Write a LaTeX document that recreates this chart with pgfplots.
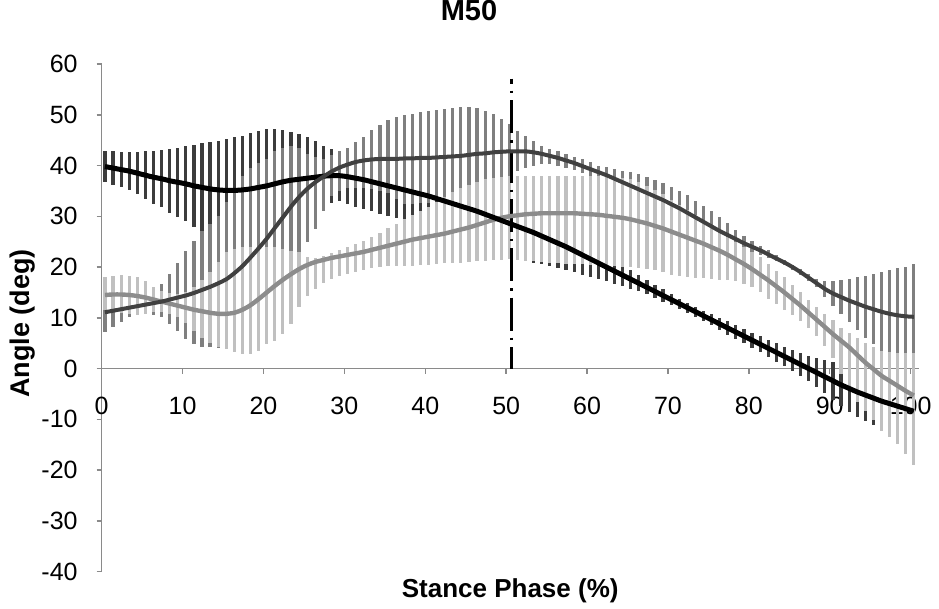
\documentclass[border=0pt]{standalone}
\usepackage{pgfplots}
\pgfplotsset{compat=1.18}
\usepackage{pgfplotstable}
\usepackage{fontspec}
\setmainfont{Liberation Sans}
\definecolor{barB}{HTML}{3C3C3C}
\definecolor{barM}{HTML}{7F7F7F}
\definecolor{barL}{HTML}{C0C0C0}
\definecolor{lineM}{HTML}{404040}
\definecolor{lineL}{HTML}{8C8C8C}
\definecolor{axisgray}{HTML}{8A8A8A}
\pgfplotstableread{
x bm bs mm mh ml lm lh ll
0 39.8 3.1 11.1 14.0 7.2 14.5 18.0 11.5
1 39.5 3.4 11.4 14.2 8.1 14.6 18.3 11.3
2 39.2 3.4 11.7 14.4 9.1 14.6 18.4 11.0
3 38.9 3.7 12.0 14.6 10.2 14.5 18.3 10.8
4 38.5 4.1 12.3 14.8 10.6 14.3 18.0 10.6
5 38.1 4.7 12.6 15.2 10.8 14.0 17.2 10.8
6 37.7 5.2 12.9 15.6 10.5 13.6 16.0 11.2
7 37.4 5.6 13.2 16.7 10.1 13.2 15.2 11.2
8 37.0 6.3 13.6 18.6 8.8 12.8 14.8 10.8
9 36.7 6.8 14.0 20.9 7.5 12.4 14.6 10.2
10 36.4 7.4 14.4 23.2 5.8 12.0 15.0 9.0
11 36.0 8.1 14.9 25.2 4.9 11.6 16.0 7.5
12 35.7 8.7 15.5 27.2 4.2 11.3 17.5 6.0
13 35.4 9.3 16.1 28.5 4.2 11.0 19.0 5.0
14 35.2 9.7 16.8 30.0 4.1 10.8 21.0 4.3
15 35.1 10.1 17.6 32.8 3.8 10.8 22.9 3.9
16 35.1 10.5 18.8 35.4 3.8 11.0 23.6 3.2
17 35.2 10.7 20.2 38.0 4.0 11.6 23.9 2.9
18 35.4 11.0 21.9 39.5 5.0 12.5 23.9 2.9
19 35.7 11.2 23.7 40.5 7.0 13.7 23.9 3.5
20 36.0 11.1 25.6 41.3 10.0 15.0 23.9 4.9
21 36.4 10.7 27.7 42.8 13.0 16.3 23.9 5.5
22 36.8 10.2 29.8 43.5 16.0 17.5 23.6 6.8
23 37.1 9.6 31.9 43.9 20.0 18.6 23.2 8.8
24 37.3 8.9 33.8 43.5 23.0 19.6 22.9 12.1
25 37.5 8.2 35.4 42.3 25.0 20.4 21.9 14.4
26 37.7 7.2 36.7 41.6 27.5 21.0 21.8 15.6
27 37.9 6.0 37.8 41.3 31.0 21.4 22.2 16.8
28 38.0 5.3 38.8 42.0 34.0 21.8 22.8 17.6
29 38.0 4.9 39.6 42.9 35.0 22.1 23.4 18.2
30 37.8 5.3 40.2 43.5 35.5 22.4 23.9 18.6
31 37.5 5.6 40.7 44.6 35.5 22.7 24.5 19.0
32 37.2 5.7 41.0 45.7 35.5 23.0 25.2 19.4
33 36.8 5.8 41.2 47.0 35.3 23.4 26.0 19.8
34 36.4 5.9 41.3 48.0 35.0 23.8 26.8 20.0
35 36.0 6.0 41.3 48.9 34.5 24.2 27.6 20.2
36 35.6 6.0 41.3 49.5 33.5 24.6 28.4 20.3
37 35.2 6.0 41.4 50.0 32.4 25.0 29.5 20.3
38 34.8 6.0 41.4 50.2 32.5 25.4 30.2 20.3
39 34.4 6.0 41.5 50.5 32.6 25.7 31.0 20.4
40 34.0 6.1 41.5 50.8 32.6 26.0 31.8 20.5
41 33.5 6.2 41.6 51.0 33.0 26.3 32.8 20.6
42 33.0 6.3 41.7 51.1 33.5 26.6 33.8 20.8
43 32.5 6.4 41.8 51.3 34.0 27.0 34.7 20.8
44 32.0 6.5 41.9 51.5 34.5 27.4 35.5 20.9
45 31.5 6.6 42.1 51.5 35.0 27.8 36.2 21.0
46 31.0 6.7 42.3 51.3 35.5 28.3 36.8 21.1
47 30.4 6.8 42.4 50.8 36.0 28.8 37.3 21.2
48 29.8 6.8 42.6 50.2 36.5 29.3 37.6 21.3
49 29.2 6.8 42.7 49.2 37.0 29.7 37.8 21.4
50 28.6 6.7 42.8 48.2 37.4 30.0 38.0 21.5
51 28.0 6.5 42.8 46.9 39.0 30.2 38.0 21.3
52 27.4 6.2 42.8 45.9 39.5 30.4 38.0 21.2
53 26.8 5.9 42.6 44.9 40.0 30.5 38.0 21.1
54 26.1 5.5 42.3 43.9 40.3 30.6 38.0 21.0
55 25.4 5.1 41.9 43.3 40.3 30.6 38.0 20.9
56 24.7 4.8 41.5 42.9 40.0 30.6 38.0 20.8
57 24.0 4.5 41.0 42.3 39.6 30.6 38.0 20.7
58 23.2 4.2 40.5 41.7 39.2 30.6 38.0 20.6
59 22.4 3.9 39.9 41.2 38.6 30.5 38.0 20.6
60 21.6 3.5 39.3 40.6 38.0 30.4 38.0 20.5
61 20.8 3.1 38.7 40.0 37.4 30.3 38.0 20.4
62 20.0 2.8 38.1 39.7 36.5 30.1 37.9 20.3
63 19.2 2.5 37.4 39.3 35.5 29.9 37.8 20.3
64 18.4 2.2 36.7 39.0 34.4 29.7 37.6 20.1
65 17.6 1.9 36.0 38.7 33.3 29.4 37.3 20.0
66 16.8 1.6 35.3 38.3 32.3 29.0 36.7 19.8
67 16.0 1.4 34.6 37.7 31.5 28.6 36.0 19.6
68 15.2 1.3 33.9 37.2 30.6 28.1 35.2 19.4
69 14.4 1.2 33.2 36.5 29.9 27.6 34.3 19.1
70 13.6 1.1 32.4 35.7 29.1 27.0 33.3 18.5
71 12.8 1.0 31.6 35.0 28.2 26.4 32.3 18.3
72 12.0 1.0 30.7 34.1 27.3 25.8 31.3 18.1
73 11.2 1.0 29.8 33.1 26.5 25.2 30.2 17.9
74 10.4 1.0 28.9 32.1 25.7 24.6 29.1 17.8
75 9.6 1.1 28.0 31.1 24.9 23.9 28.0 17.6
76 8.8 1.2 27.1 29.9 24.3 23.2 27.0 17.5
77 8.0 1.3 26.3 28.6 24.0 22.4 26.0 17.4
78 7.2 1.3 25.5 27.3 23.7 21.5 24.9 17.3
79 6.4 1.4 24.7 26.2 23.2 20.6 23.9 16.7
80 5.6 1.5 24.0 25.2 22.8 19.6 22.9 16.0
81 4.8 1.6 23.3 24.2 22.4 18.5 21.9 15.0
82 4.0 1.7 22.5 23.3 21.7 17.4 20.6 13.7
83 3.2 1.8 21.7 22.3 21.1 16.2 19.3 12.7
84 2.4 1.9 20.9 21.4 20.4 15.0 18.0 11.6
85 1.6 2.0 20.0 20.5 19.5 13.7 16.5 10.5
86 0.8 2.2 19.0 19.6 18.4 12.4 15.0 9.3
87 0.0 2.5 17.9 18.6 17.2 11.0 13.6 8.0
88 -0.8 2.8 16.8 17.6 16.0 9.6 12.2 6.5
89 -1.6 3.2 15.7 17.3 14.1 8.2 10.8 4.5
90 -2.4 3.7 14.8 17.3 12.3 6.8 9.5 2.0
91 -3.2 4.2 14.1 17.4 10.8 5.5 8.0 -1.0
92 -3.9 4.7 13.4 17.7 9.1 4.2 7.0 -4.0
93 -4.6 5.0 12.8 18.0 7.6 2.7 6.0 -6.5
94 -5.2 5.2 12.2 18.3 6.1 1.2 5.0 -8.3
95 -5.8 5.4 11.7 18.6 4.8 -0.1 4.2 -10.2
96 -6.4 5.6 11.2 19.0 3.4 -1.4 3.5 -12.2
97 -6.9 5.8 10.8 19.4 2.2 -2.4 3.2 -13.5
98 -7.4 6.0 10.5 19.8 1.2 -3.4 3.0 -14.8
99 -7.9 6.2 10.3 20.1 0.5 -4.4 3.0 -16.8
100 -8.4 6.4 10.2 20.6 -0.2 -5.3 3.0 -19.0
}\data
\begin{document}
\begin{tikzpicture}
\useasboundingbox (-50.85pt,-18.65pt) rectangle (418.65pt,285.85pt);
\begin{axis}[
  at={(0pt,0pt)}, anchor=south west,
  scale only axis, width=408.5pt, height=253.85pt,
  xmin=0, xmax=101, ymin=-40, ymax=60,
  axis x line=middle, axis y line=left,
  axis line style={draw=axisgray, line width=0.75pt, -},
  xtick={0,10,...,100}, ytick={-40,-30,...,60},
  tick align=outside, major tick length=2.5pt,
  tick style={draw=axisgray, line width=0.75pt},
  hide obscured x ticks=false, hide obscured y ticks=false,
  /pgf/number format/assume math mode=true,
  ticklabel style={font=\fontsize{12.5}{14}\selectfont},
  xticklabel style={anchor=north, yshift=-8pt},
  yticklabel style={anchor=east, xshift=-6pt},
  title={M50},
  title style={at={(axis description cs:0.4496,1.0817)}, anchor=center, font=\bfseries\fontsize{14.5}{16}\selectfont},
  xlabel={Stance Phase (\%)},
  xlabel style={at={(axis description cs:0.5,-0.038)}, anchor=center, font=\bfseries\fontsize{13}{15}\selectfont},
  ylabel={Angle (deg)},
  ylabel style={at={(axis description cs:-0.0963,0.489)}, anchor=center, font=\bfseries\fontsize{13.5}{15}\selectfont},
]
\addplot[draw=none, mark=none, error bars/.cd, y dir=both, y explicit, error mark=none,
  error bar style={line width=1.6pt, draw=barB, solid}]
  table[x expr=\thisrow{x}+0.4, y=bm, y error=bs]{\data};
\addplot[draw=none, mark=none, error bars/.cd, y dir=both, y explicit, error mark=none,
  error bar style={line width=1.6pt, draw=barM, solid}]
  table[x expr=\thisrow{x}+0.4, y=mm, y error plus expr=\thisrow{mh}-\thisrow{mm}, y error minus expr=\thisrow{mm}-\thisrow{ml}]{\data};
\addplot[draw=none, mark=none, error bars/.cd, y dir=both, y explicit, error mark=none,
  error bar style={line width=1.6pt, draw=barL, solid}]
  table[x expr=\thisrow{x}+0.4, y=lm, y error plus expr=\thisrow{lh}-\thisrow{lm}, y error minus expr=\thisrow{lm}-\thisrow{ll}]{\data};
\addplot[black, line width=1.5pt, dash pattern=on 16.5pt off 3.5pt on 1.2pt off 3.5pt, dash phase=14pt]
  coordinates {(50.7,57.1) (50.7,0)};
\addplot[draw=lineL, line width=2.2pt, smooth, mark=none] table[x expr=\thisrow{x}+0.4, y=lm]{\data};
\addplot[draw=black, line width=2.5pt, smooth, mark=none] table[x expr=\thisrow{x}+0.4, y=bm]{\data};
\addplot[draw=lineM, line width=2pt, smooth, mark=none] table[x expr=\thisrow{x}+0.4, y=mm]{\data};
\end{axis}
\end{tikzpicture}
\end{document}
